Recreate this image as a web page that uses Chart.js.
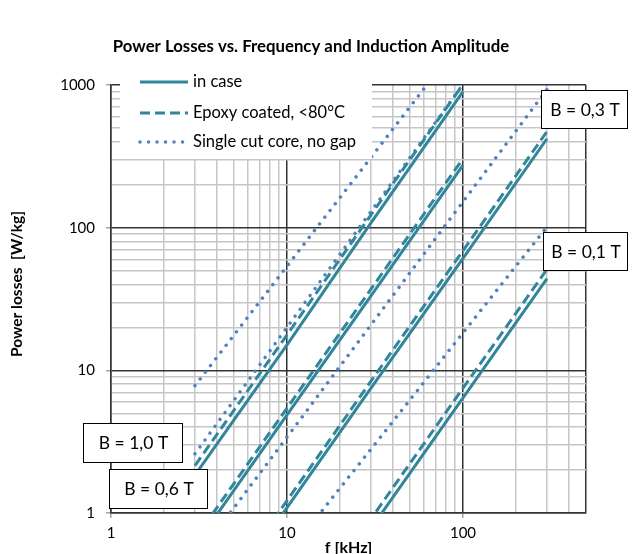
<!DOCTYPE html>
<html>
<head>
<meta charset="utf-8">
<script src="https://cdn.jsdelivr.net/npm/chart.js@4.4.1/dist/chart.umd.min.js"></script>
<style>
  html, body { margin: 0; padding: 0; background: #fff; }
</style>
</head>
<body>
<canvas id="chart" width="638" height="554"></canvas>
<script>
const chartTitle = 'Power Losses vs. Frequency and Induction Amplitude';
const yTitle = 'Power losses  [W/kg]';
const seriesNames = ['in case', 'Epoxy coated, <80°C', 'Single cut core, no gap'];
const boxLabels = ['B = 0,3 T', 'B = 0,1 T', 'B = 1,0 T', 'B = 0,6 T'];

// frequency in kHz
const freq = [3, 10, 30, 100, 300];

// "in case" (solid)
const caseB10 = [1.84, 15.1, 108, 900, null];
const caseB06 = [0.59, 4.87, 33.3, 274, null];
const caseB03 = [0.133, 1.09, 7.5, 61, 420];
const caseB01 = [0.014, 0.114, 0.78, 6.4, 44];

// epoxy coated (dashed)
const epoxyB10 = [2.15, 17.7, 123, 1010, null];
const epoxyB06 = [0.66, 5.43, 37.1, 305, null];
const epoxyB03 = [0.15, 1.22, 8.4, 69, 472];
const epoxyB01 = [0.016, 0.133, 0.91, 7.5, 51];

// single cut core, no gap (dotted)
const cutB10 = [7.8, 53.7, 310, 2130, null];
const cutB06 = [2.6, 20, 130, 1010, null];
const cutB03 = [0.47, 3.4, 20.8, 152, 930];
const cutB01 = [0.079, 0.51, 2.8, 18.3, 101];

// gridline positions (log axes, 1..9 per decade)
const xMax = 500, yMax = 1000;
function logGrid(max) {
  const out = [];
  for (let d = 1; d <= max; d *= 10) {
    for (let k = 1; k <= 9; k++) if (k * d <= max) out.push(k * d);
  }
  return out;
}
const xGrid = logGrid(xMax);
const yGrid = logGrid(yMax);

const teal = '#31869B';
const blue = '#4F81BD';
const solidStyle = { borderColor: teal, borderWidth: 3, borderDash: [] };
const dashStyle = { borderColor: teal, borderWidth: 3, borderDash: [10, 5] };
const dotStyle = { borderColor: blue, borderWidth: 3.5, borderDash: [0.01, 8.5], borderCapStyle: 'round' };

function pts(vals) {
  const out = [];
  vals.forEach((v, i) => { if (v !== null) out.push({ x: freq[i], y: v }); });
  return out;
}
function ds(label, vals, style) {
  return Object.assign({ label, data: pts(vals), pointRadius: 0, fill: false, tension: 0 }, style);
}

const datasets = [
  ds('in case B=1,0', caseB10, solidStyle),
  ds('epoxy B=1,0', epoxyB10, dashStyle),
  ds('cut B=1,0', cutB10, dotStyle),
  ds('in case B=0,6', caseB06, solidStyle),
  ds('epoxy B=0,6', epoxyB06, dashStyle),
  ds('cut B=0,6', cutB06, dotStyle),
  ds('in case B=0,3', caseB03, solidStyle),
  ds('epoxy B=0,3', epoxyB03, dashStyle),
  ds('cut B=0,3', cutB03, dotStyle),
  ds('in case B=0,1', caseB01, solidStyle),
  ds('epoxy B=0,1', epoxyB01, dashStyle),
  ds('cut B=0,1', cutB01, dotStyle)
];

const isDecade = v => Math.abs(Math.log10(v) - Math.round(Math.log10(v))) < 1e-9;
const FONT = 'Lato, "Open Sans", sans-serif';
const MAJOR = '#333333', MINOR = '#c6c6c6';

function xGridColor(c) {
  const v = c.tick && c.tick.value;
  return v !== undefined && (isDecade(v) || v === xMax) ? MAJOR : MINOR;
}
function yGridColor(c) {
  const v = c.tick && c.tick.value;
  return v !== undefined && isDecade(v) ? MAJOR : MINOR;
}
function tickColor(c) {
  const v = c.tick && c.tick.value;
  return v !== undefined && isDecade(v) ? '#a6a6a6' : 'rgba(0,0,0,0)';
}

// title, y title, legend and the B = ... boxes
const overlay = {
  id: 'overlay',
  afterDraw(chart) {
    const { ctx, chartArea: a } = chart;
    ctx.save();
    ctx.fillStyle = '#000';
    ctx.font = 'bold 16.8px ' + FONT;
    ctx.textAlign = 'center';
    ctx.textBaseline = 'middle';
    ctx.fillText(chartTitle, 311, 47);

    ctx.save();
    ctx.translate(17, 284);
    ctx.rotate(-Math.PI / 2);
    ctx.font = 'bold 15.5px ' + FONT;
    ctx.fillText(yTitle, 0, 0);
    ctx.restore();

    // legend
    ctx.fillStyle = '#fff';
    ctx.fillRect(a.left + 9, 66, 252, a.top + 74 - 66);
    const styles = [solidStyle, dashStyle, dotStyle];
    const rows = [82, 113, 142];
    const ends = [188, 188, 183];
    ctx.textAlign = 'left';
    ctx.font = '16.5px ' + FONT;
    styles.forEach((s, i) => {
      ctx.beginPath();
      ctx.strokeStyle = s.borderColor;
      ctx.lineWidth = s.borderWidth;
      ctx.setLineDash(s.borderDash);
      ctx.lineCap = s.borderCapStyle || 'butt';
      ctx.moveTo(140, rows[i]);
      ctx.lineTo(ends[i], rows[i]);
      ctx.stroke();
      ctx.setLineDash([]);
      ctx.fillStyle = '#000';
      ctx.fillText(seriesNames[i], 193, rows[i]);
    });

    // B boxes
    const boxes = [
      [541, 90, 86, 38],
      [543, 232, 84, 38],
      [83, 423, 99, 39],
      [109, 469, 98, 39]
    ];
    ctx.font = '17.5px ' + FONT;
    ctx.textAlign = 'center';
    ctx.lineWidth = 1;
    boxes.forEach((b, i) => {
      ctx.fillStyle = '#fff';
      ctx.fillRect(b[0], b[1], b[2], b[3]);
      ctx.strokeStyle = '#000';
      ctx.strokeRect(b[0] + 0.5, b[1] + 0.5, b[2], b[3]);
      ctx.fillStyle = '#000';
      ctx.fillText(boxLabels[i], b[0] + b[2] / 2 + 1, b[1] + b[3] / 2 + 1);
    });
    ctx.restore();
  }
};

new Chart(document.getElementById('chart'), {
  type: 'line',
  data: { datasets },
  plugins: [overlay],
  options: {
    responsive: false,
    animation: false,
    layout: { padding: { top: 85, right: 52, bottom: 0, left: 0 } },
    plugins: { legend: { display: false }, title: { display: false }, tooltip: { enabled: false } },
    scales: {
      x: {
        type: 'logarithmic',
        min: 1,
        max: xMax,
        afterFit: s => { s.height = 41; },
        afterBuildTicks: s => { s.ticks = xGrid.map(v => ({ value: v, major: isDecade(v) })); },
        ticks: {
          autoSkip: false, maxRotation: 0, padding: 6, color: '#000',
          font: { family: FONT, size: 15 },
          callback: v => (isDecade(v) ? String(v) : '')
        },
        grid: { color: xGridColor, lineWidth: 1.5, tickLength: 5, tickColor: tickColor },
        border: { color: MAJOR, width: 1.5 },
        title: {
          display: true, text: 'f [kHz]', color: '#000',
          font: { family: FONT, size: 16, weight: 'bold', lineHeight: 0.8 },
          padding: { top: 0, bottom: 0 }
        }
      },
      y: {
        type: 'logarithmic',
        min: 1,
        max: yMax,
        afterFit: s => { s.width = 111; },
        afterBuildTicks: s => { s.ticks = yGrid.map(v => ({ value: v, major: isDecade(v) })); },
        ticks: {
          autoSkip: false, padding: 11, color: '#000',
          font: { family: FONT, size: 15 },
          callback: v => (isDecade(v) ? String(v) : '')
        },
        grid: { color: yGridColor, lineWidth: 1.5, tickLength: 5, tickColor: tickColor },
        border: { color: MAJOR, width: 1.5 },
        title: { display: false }
      }
    }
  }
});
</script>
</body>
</html>
